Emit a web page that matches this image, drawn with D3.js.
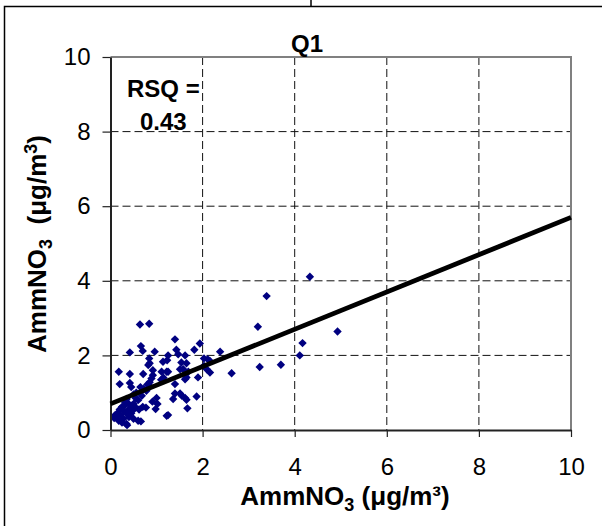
<!DOCTYPE html>
<html>
<head>
<meta charset="utf-8">
<script src="https://cdn.jsdelivr.net/npm/d3@7"></script>
<style>
  html, body { margin: 0; padding: 0; background: #fff; }
  svg { display: block; font-family: "Liberation Sans", Arial, sans-serif; }
</style>
</head>
<body>
<div id="chart"></div>
<script>
const chartTitle = "Q1";
const rsqLines = ["RSQ =", "0.43"];
const xTicks = [0, 2, 4, 6, 8, 10];
const yTicks = [0, 2, 4, 6, 8, 10];
const fitIntercept = 0.7;
const fitSlope = 0.5;
const xDomain = [0, 10];
const yDomain = [0, 10];

const xValues = [
  4.33, 3.39, 3.2, 4.93, 4.17, 4.11, 3.7, 3.24, 2.63,
  0.64, 0.84, 1.40, 1.94, 0.66, 0.70, 0.42, 0.96, 1.82, 1.43, 1.47, 1.25, 1.23, 1.62, 2.38, 2.11, 2.03, 2.16, 2.03, 2.09, 2.16, 1.14, 0.84, 0.85, 0.82,
  1.54, 1.65, 1.51, 1.58, 1.69, 1.25, 1.90, 1.65, 1.62, 1.40, 1.11, 1.22, 0.18, 0.42, 0.71, 0.92, 0.92, 0.89, 0.85, 1.10, 1.15,
  0.20, 0.42, 0.45, 0.65, 0.72, 0.78, 0.68, 0.80, 0.85,
  0.56, 0.50, 0.35, 0.32,
  1.40, 1.51, 1.55, 1.62, 1.87, 1.36, 1.65, 1.67, 1.25, 0.98, 0.77, 0.91, 0.66, 0.36, 0.08, 0.60, 0.35,
  1.02, 1.00, 1.22,
  0.15, 0.20, 0.25, 0.30, 0.12, 0.22, 0.28, 0.35, 0.40, 0.45, 0.50, 0.55, 0.40, 0.30, 0.18, 0.45, 0.38, 0.60, 0.62, 0.50, 0.70, 0.25, 0.10, 0.55, 0.48
];
const yValues = [
  4.11, 3.59, 2.77, 2.64, 2.33, 2.00, 1.75, 1.69, 1.52,
  2.83, 2.85, 2.43, 2.32, 2.25, 2.12, 2.08, 2.10, 2.15, 2.15, 2.03, 2.00, 1.87, 2.00, 2.10, 1.90, 1.92, 1.85, 1.72, 1.63, 1.54, 1.83, 1.92, 1.79, 1.74,
  1.81, 1.79, 1.63, 1.63, 1.56, 1.56, 1.41, 1.41, 1.36, 1.23, 1.56, 1.56, 1.56, 1.50, 1.50, 1.60, 1.47, 1.38, 1.28, 1.35, 1.40,
  1.23, 1.26, 1.15, 1.15, 1.10, 1.05, 0.92, 1.22, 1.18,
  1.00, 0.95, 0.83, 0.74,
  0.98, 0.98, 0.92, 0.86, 0.90, 0.83, 0.81, 0.58, 0.40, 0.56, 0.60, 0.76, 0.23, 0.13, 0.32, 0.25, 0.16,
  0.70, 0.86, 0.38,
  0.45, 0.55, 0.62, 0.50, 0.35, 0.40, 0.30, 0.45, 0.55, 0.65, 0.70, 0.60, 0.35, 0.65, 0.25, 0.45, 0.72, 0.80, 0.55, 0.30, 0.62, 0.20, 0.40, 0.85, 0.52
];

const W = 602, H = 526;
const plot = { left: 110.5, right: 571, top: 57, bottom: 430 };
const fontFam = "'Liberation Sans', Arial, sans-serif";

const svg = d3.select("#chart").append("svg").attr("width", W).attr("height", H);

// outer frame lines (cropped figure border)
svg.append("path").attr("d", "M4.5,526 V6.5 H602").attr("fill", "none").attr("stroke", "#000").attr("stroke-width", 1.5);
svg.append("line").attr("x1", 311).attr("x2", 311).attr("y1", 0).attr("y2", 6.5).attr("stroke", "#000").attr("stroke-width", 1.5);

const x = d3.scaleLinear().domain(xDomain).range([plot.left, plot.right]);
const y = d3.scaleLinear().domain(yDomain).range([plot.bottom, plot.top]);

// gridlines
const grid = svg.append("g").attr("stroke", "#111").attr("stroke-width", 1).attr("stroke-dasharray", "8,4");
xTicks.filter(t => t > xDomain[0] && t < xDomain[1]).forEach(t => {
  grid.append("line").attr("x1", x(t)).attr("x2", x(t)).attr("y1", plot.top).attr("y2", plot.bottom);
});
yTicks.filter(t => t > yDomain[0] && t < yDomain[1]).forEach(t => {
  grid.append("line").attr("x1", plot.left).attr("x2", plot.right).attr("y1", y(t)).attr("y2", y(t));
});

// plot border (top/right gray)
svg.append("path")
  .attr("d", `M${plot.left},${plot.top} H${plot.right} V${plot.bottom}`)
  .attr("fill", "none").attr("stroke", "#808080").attr("stroke-width", 2);

// points
const pts = xValues.map((v, i) => [v, yValues[i]]);
const r = 4.2;
svg.append("g").selectAll("path").data(pts).join("path")
  .attr("d", d => `M${x(d[0])},${y(d[1]) - r}L${x(d[0]) + r},${y(d[1])}L${x(d[0])},${y(d[1]) + r}L${x(d[0]) - r},${y(d[1])}Z`)
  .attr("fill", "#000080");

// axes
const xAxis = d3.axisBottom(x).tickValues(xTicks).tickSize(7).tickSizeOuter(0).tickPadding(21).tickFormat(d3.format("d"));
const yAxis = d3.axisLeft(y).tickValues(yTicks).tickSize(8).tickSizeOuter(0).tickPadding(12).tickFormat(d3.format("d"));

const gx = svg.append("g").attr("transform", `translate(0,${plot.bottom})`).call(xAxis);
const gy = svg.append("g").attr("transform", `translate(${plot.left},0)`).call(yAxis);
[gx, gy].forEach(g => {
  g.select(".domain").attr("stroke", "#222").attr("stroke-width", 2);
  g.selectAll(".tick line").attr("stroke", "#222").attr("stroke-width", 1.2);
  g.selectAll(".tick text").attr("fill", "#000").style("font-size", "24px").style("font-family", fontFam);
});

// regression line
svg.append("line")
  .attr("x1", x(xDomain[0])).attr("y1", y(fitIntercept + fitSlope * xDomain[0]))
  .attr("x2", x(xDomain[1])).attr("y2", y(fitIntercept + fitSlope * xDomain[1]))
  .attr("stroke", "#000").attr("stroke-width", 4.8);

// title
svg.append("text").attr("x", 307).attr("y", 52).attr("text-anchor", "middle")
  .style("font-size", "24px").style("font-weight", "bold").text(chartTitle);

// RSQ annotation
svg.append("text").attr("x", 127).attr("y", 97).style("font-size", "24px").style("font-weight", "bold").text(rsqLines[0]);
svg.append("text").attr("x", 140).attr("y", 130).style("font-size", "24px").style("font-weight", "bold").text(rsqLines[1]);

// x axis title
const xt = svg.append("text").attr("x", 345).attr("y", 505).attr("text-anchor", "middle")
  .style("font-size", "26px").style("font-weight", "bold");
xt.append("tspan").text("AmmNO");
xt.append("tspan").attr("dy", 6).style("font-size", "18px").text("3");
xt.append("tspan").attr("dy", -6).text(" (μg/m³)");

// y axis title
const yt = svg.append("text").attr("transform", "translate(46,244) rotate(-90)").attr("text-anchor", "middle")
  .style("font-size", "26px").style("font-weight", "bold");
yt.append("tspan").text("AmmNO");
yt.append("tspan").attr("dy", 6).style("font-size", "18px").text("3");
yt.append("tspan").attr("dy", -6).text("\u00A0\u00A0(μg/m");
yt.append("tspan").attr("dy", -9).style("font-size", "18px").text("3");
yt.append("tspan").attr("dy", 9).text(")");
</script>
</body>
</html>
